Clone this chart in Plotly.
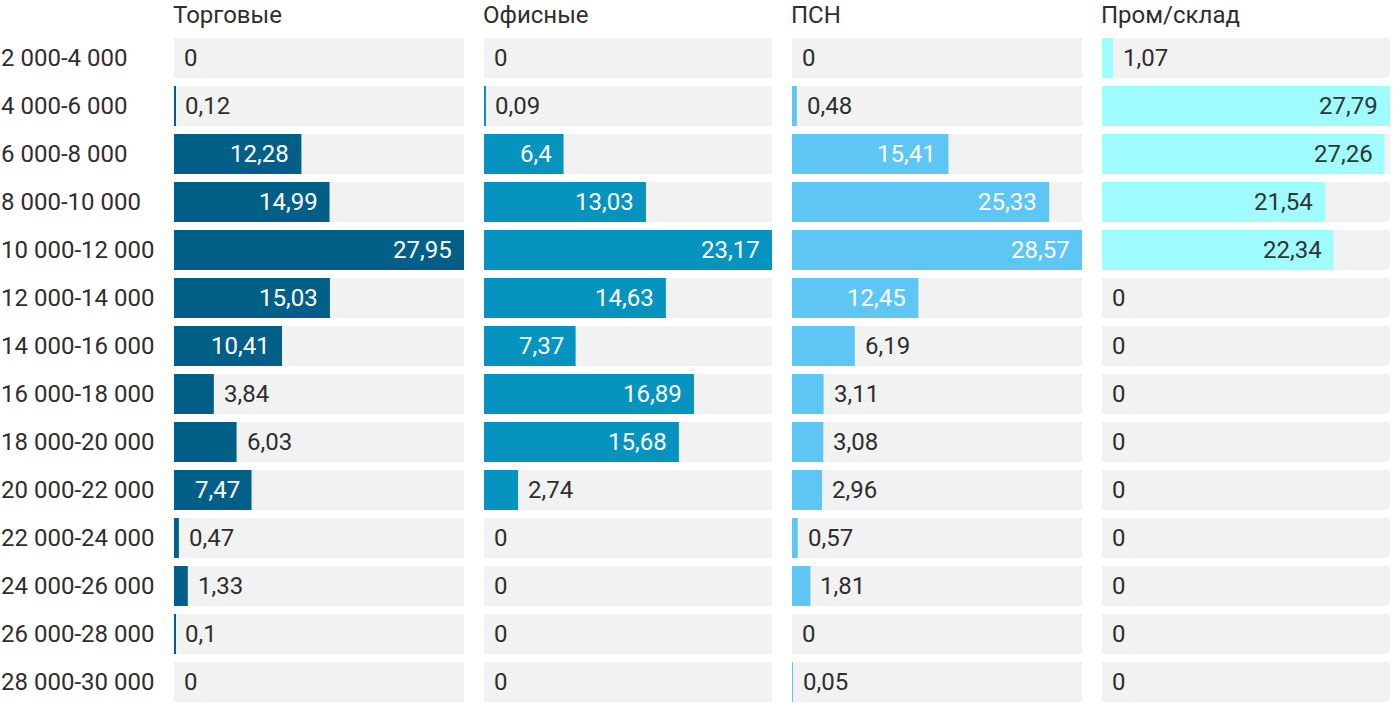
import plotly.graph_objects as go

categories = ["2 000-4 000", "4 000-6 000", "6 000-8 000", "8 000-10 000", "10 000-12 000",
              "12 000-14 000", "14 000-16 000", "16 000-18 000", "18 000-20 000", "20 000-22 000",
              "22 000-24 000", "24 000-26 000", "26 000-28 000", "28 000-30 000"]

titles = ["Торговые", "Офисные", "ПСН", "Пром/склад"]

torgovye = [0, 0.12, 12.28, 14.99, 27.95, 15.03, 10.41, 3.84, 6.03, 7.47, 0.47, 1.33, 0.1, 0]
ofisnye = [0, 0.09, 6.4, 13.03, 23.17, 14.63, 7.37, 16.89, 15.68, 2.74, 0, 0, 0, 0]
psn = [0, 0.48, 15.41, 25.33, 28.57, 12.45, 6.19, 3.11, 3.08, 2.96, 0.57, 1.81, 0, 0.05]
prom_sklad = [1.07, 27.79, 27.26, 21.54, 22.34, 0, 0, 0, 0, 0, 0, 0, 0, 0]

series = [torgovye, ofisnye, psn, prom_sklad]
colors = ["#025f87", "#0593c0", "#5ec6f4", "#9ffcff"]
inside_text_colors = ["#ffffff", "#ffffff", "#ffffff", "#333333"]

W, H = 1400, 718
panels_px = [(174, 464), (484, 772), (792, 1082), (1102, 1390)]
y_top_px, y_bot_px = 34, 706
ydom = [(H - y_bot_px) / H, (H - y_top_px) / H]
FONT = "Roboto"
TXT = "#2e2e2e"

fig = go.Figure()
annotations = []

for i, (vals, color) in enumerate(zip(series, colors)):
    n = "" if i == 0 else str(i + 1)
    xa, ya = "x" + n, "y" + n
    vmax = max(vals)
    fig.add_trace(go.Bar(x=[vmax] * len(categories), y=categories, orientation="h",
                         marker=dict(color="#f2f2f2", line=dict(width=0)),
                         xaxis=xa, yaxis=ya, hoverinfo="skip", showlegend=False))
    fig.add_trace(go.Bar(x=vals, y=categories, orientation="h",
                         marker=dict(color=color, line=dict(width=0)),
                         xaxis=xa, yaxis=ya, showlegend=False))
    x0, x1 = panels_px[i]
    fig.layout["xaxis" + n] = dict(domain=[x0 / W, x1 / W], range=[0, vmax],
                                   anchor=ya, showgrid=False, zeroline=False,
                                   showticklabels=False, showline=False, ticks="",
                                   fixedrange=True)
    fig.layout["yaxis" + n] = dict(domain=ydom, anchor=xa, type="category",
                                   categoryorder="array", categoryarray=categories,
                                   range=[len(categories) - 0.5, -0.5],
                                   showgrid=False, zeroline=False, showticklabels=False,
                                   showline=False, ticks="", fixedrange=True)
    for cat, v in zip(categories, vals):
        label = f"{v:g}".replace(".", ",")
        inside = v / vmax >= 0.24
        annotations.append(dict(
            x=v, y=cat, xref=xa, yref=ya, text=label, showarrow=False,
            xanchor="right" if inside else "left", xshift=-10 if inside else 8,
            yanchor="middle",
            font=dict(family=FONT, size=24, color=inside_text_colors[i] if inside else TXT)))
    annotations.append(dict(x=x0 / W, y=1, xref="paper", yref="paper",
                            text=titles[i], showarrow=False, xanchor="left", yanchor="top",
                            yshift=1, xshift=-3,
                            font=dict(family=FONT, size=24, color=TXT)))

for cat in categories:
    annotations.append(dict(x=0, y=cat, xref="paper", yref="y", text=cat,
                            showarrow=False, xanchor="left", yanchor="middle", xshift=-1,
                            font=dict(family=FONT, size=24, color=TXT)))

fig.update_layout(width=W, height=H, margin=dict(l=0, r=0, t=0, b=0),
                  paper_bgcolor="white", plot_bgcolor="white",
                  barmode="overlay", bargap=8 / 48,
                  annotations=annotations, font=dict(family=FONT))

fig.write_html("out.html", config={"displayModeBar": False},
               post_script="document.body.style.margin='0';document.body.style.overflow='hidden';")
